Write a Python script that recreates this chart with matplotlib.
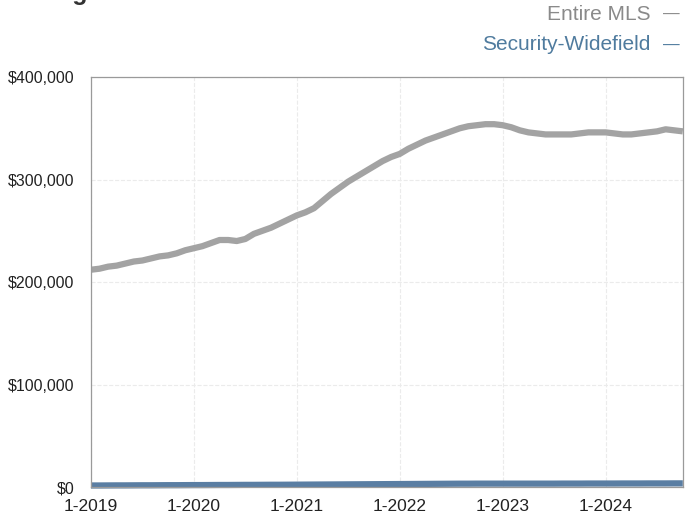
import matplotlib.pyplot as plt

plt.rcParams['font.family'] = ['Liberation Sans', 'DejaVu Sans']

# monthly values, 1-2019 through 10-2024
months = list(range(70))
entire_mls = [212, 213, 215, 216, 218, 220, 221, 223, 225, 226, 228, 231,
              233, 235, 238, 241, 241, 240, 242, 247, 250, 253, 257, 261,
              265, 268, 272, 279, 286, 292, 298, 303, 308, 313, 318, 322,
              325, 330, 334, 338, 341, 344, 347, 350, 352, 353, 354, 354,
              353, 351, 348, 346, 345, 344, 344, 344, 344, 345, 346, 346,
              346, 345, 344, 344, 345, 346, 347, 349, 348, 347]
entire_mls = [v * 1000 for v in entire_mls]
security_widefield = [1500, 1500, 1550, 1600, 1600, 1650, 1700, 1700, 1750, 1800,
                      1800, 1850, 1900, 1900, 1950, 2000, 2000, 2050, 2100, 2100,
                      2150, 2200, 2200, 2250, 2300, 2350, 2400, 2450, 2500, 2550,
                      2600, 2650, 2700, 2750, 2800, 2850, 2900, 2950, 3000, 3050,
                      3100, 3150, 3200, 3250, 3250, 3300, 3300, 3300, 3300, 3300,
                      3300, 3300, 3300, 3300, 3300, 3350, 3350, 3350, 3400, 3400,
                      3400, 3400, 3450, 3450, 3450, 3500, 3500, 3500, 3550, 3550]

tick_pos = [0, 12, 24, 36, 48, 60]
tick_labels = ['1-2019', '1-2020', '1-2021', '1-2022', '1-2023', '1-2024']
y_ticks = [0, 100000, 200000, 300000, 400000]
y_labels = ['$0', '$100,000', '$200,000', '$300,000', '$400,000']

grey = '#a3a3a3'
blue = '#5a7ea3'

fig = plt.figure(figsize=(6.89, 5.17), dpi=100)
ax = fig.add_axes([0.132, 0.058, 0.859, 0.793])

ax.plot(months, entire_mls, color=grey, linewidth=4.5, solid_capstyle='butt')
ax.plot(months, security_widefield, color=blue, linewidth=4.5, solid_capstyle='butt',
        clip_on=False)

ax.set_xlim(0, 69)
ax.set_ylim(0, 400000)
ax.set_xticks(tick_pos)
ax.set_xticklabels(tick_labels, fontsize=12.5, color='#222222')
ax.set_yticks(y_ticks)
ax.set_yticklabels(y_labels, fontsize=11.5, color='#222222')
ax.tick_params(length=0)
ax.tick_params(axis='x', pad=8.5)
ax.tick_params(axis='y', pad=12)
ax.grid(True, color='#ebebeb', linewidth=0.8, linestyle='--')
for s in ax.spines.values():
    s.set_color('#9a9a9a')
    s.set_linewidth(0.9)

# legend drawn as right-aligned text at the top
fig.text(0.944, 0.972, 'Entire MLS', ha='right', va='center', fontsize=15, color='#8a8a8a')
fig.text(0.975, 0.972, '\u2014', ha='center', va='center', fontsize=12, color='#8a8a8a')
fig.text(0.944, 0.913, 'Security-Widefield', ha='right', va='center', fontsize=15, color='#4f7b9e')
fig.text(0.975, 0.913, '\u2014', ha='center', va='center', fontsize=12, color='#4f7b9e')

# title, mostly cut off at the top edge as in the scan
fig.text(0.005, 1.0, 'Rolling', ha='left', va='baseline', fontsize=18,
         fontweight='bold', color='#333333')
fig.text(0.135, 1.0, '12-Month Calculation', ha='left', va='baseline', fontsize=13,
         color='#999999')

fig.savefig('out.png', dpi=100)
